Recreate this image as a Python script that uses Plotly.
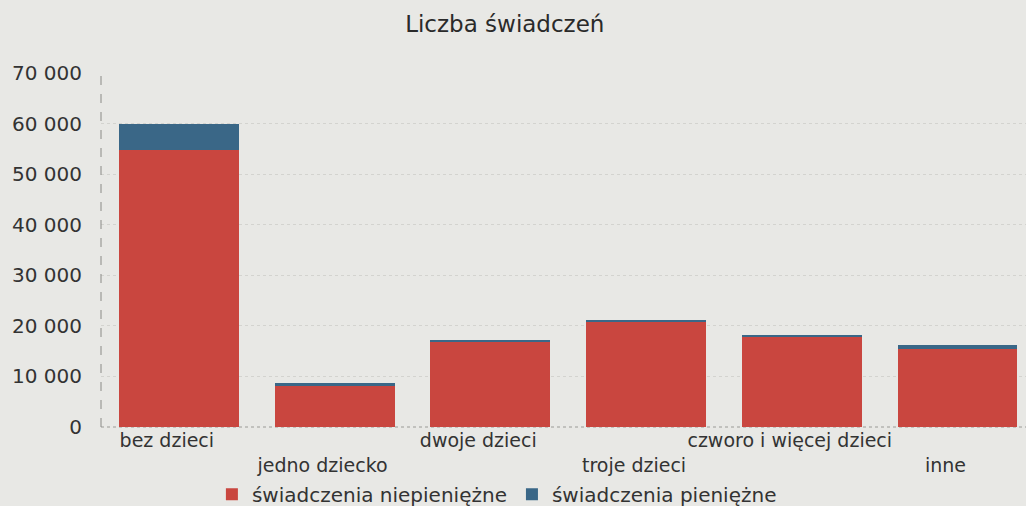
import plotly.graph_objects as go

kategorie = ['bez dzieci', 'jedno dziecko', 'dwoje dzieci', 'troje dzieci',
             'czworo i więcej dzieci', 'inne']
# etykiety osi x na przemian w dwóch rzędach
etykiety = ['bez dzieci', '<br>jedno dziecko', 'dwoje dzieci', '<br>troje dzieci',
            'czworo i więcej dzieci', '<br>inne']
niepieniezne = [54700, 8100, 17000, 20800, 17900, 15500]
pieniezne = [5300, 700, 300, 200, 100, 700]

czcionka = 'DejaVu Sans'

fig = go.Figure(data=[
    go.Bar(name='świadczenia niepieniężne', x=kategorie, y=niepieniezne,
           marker_color='#c9463f', marker_line_width=0, width=0.77),
    go.Bar(name='świadczenia pieniężne', x=kategorie, y=pieniezne,
           marker_color='#3a6787', marker_line_width=0, width=0.77),
])

fig.update_layout(
    barmode='stack',
    width=1026, height=506,
    margin=dict(l=101, r=0, t=73, b=79, autoexpand=False),
    paper_bgcolor='#e8e8e5', plot_bgcolor='#e8e8e5',
    separators=', ',
    font=dict(family=czcionka, size=18, color='#333333'),
    title=dict(text='Liczba świadczeń', x=0.492, xanchor='center', y=0.952,
               yanchor='middle', font=dict(size=23, color='#2a2a2a')),
    legend=dict(orientation='h', x=0.428, xanchor='center', y=-0.19,
                yanchor='middle', font=dict(size=20), itemsizing='constant',
                traceorder='normal', bgcolor='rgba(0,0,0,0)'),
    showlegend=True,
    shapes=[
        # przerywana oś pionowa i kropkowana linia podstawy
        dict(type='line', xref='paper', yref='paper', x0=0, x1=0, y0=0, y1=1,
             line=dict(color='#8a8a86', width=1, dash='dash')),
        dict(type='line', xref='paper', yref='paper', x0=0, x1=1, y0=0, y1=0,
             line=dict(color='#9a9a96', width=1, dash='dot'), layer='below'),
    ],
)

fig.update_xaxes(tickmode='array', tickvals=kategorie, ticktext=etykiety,
                 range=[-0.5, 5.44], showgrid=False, showline=False,
                 ticks='', tickangle=0, automargin=False, ticklabelshift=-12,
                 tickfont=dict(size=19))
fig.update_yaxes(range=[0, 70000], dtick=10000, tickformat=',d',
                 showgrid=True, gridcolor='#d3d3cf', griddash='dot',
                 zeroline=False, showline=False, automargin=False,
                 ticks='', ticklabelstandoff=18, tickfont=dict(size=20))

fig.write_html("out.html", config={'displayModeBar': False},
               post_script="document.body.style.margin='0';"
                           "document.body.style.overflow='hidden';")
